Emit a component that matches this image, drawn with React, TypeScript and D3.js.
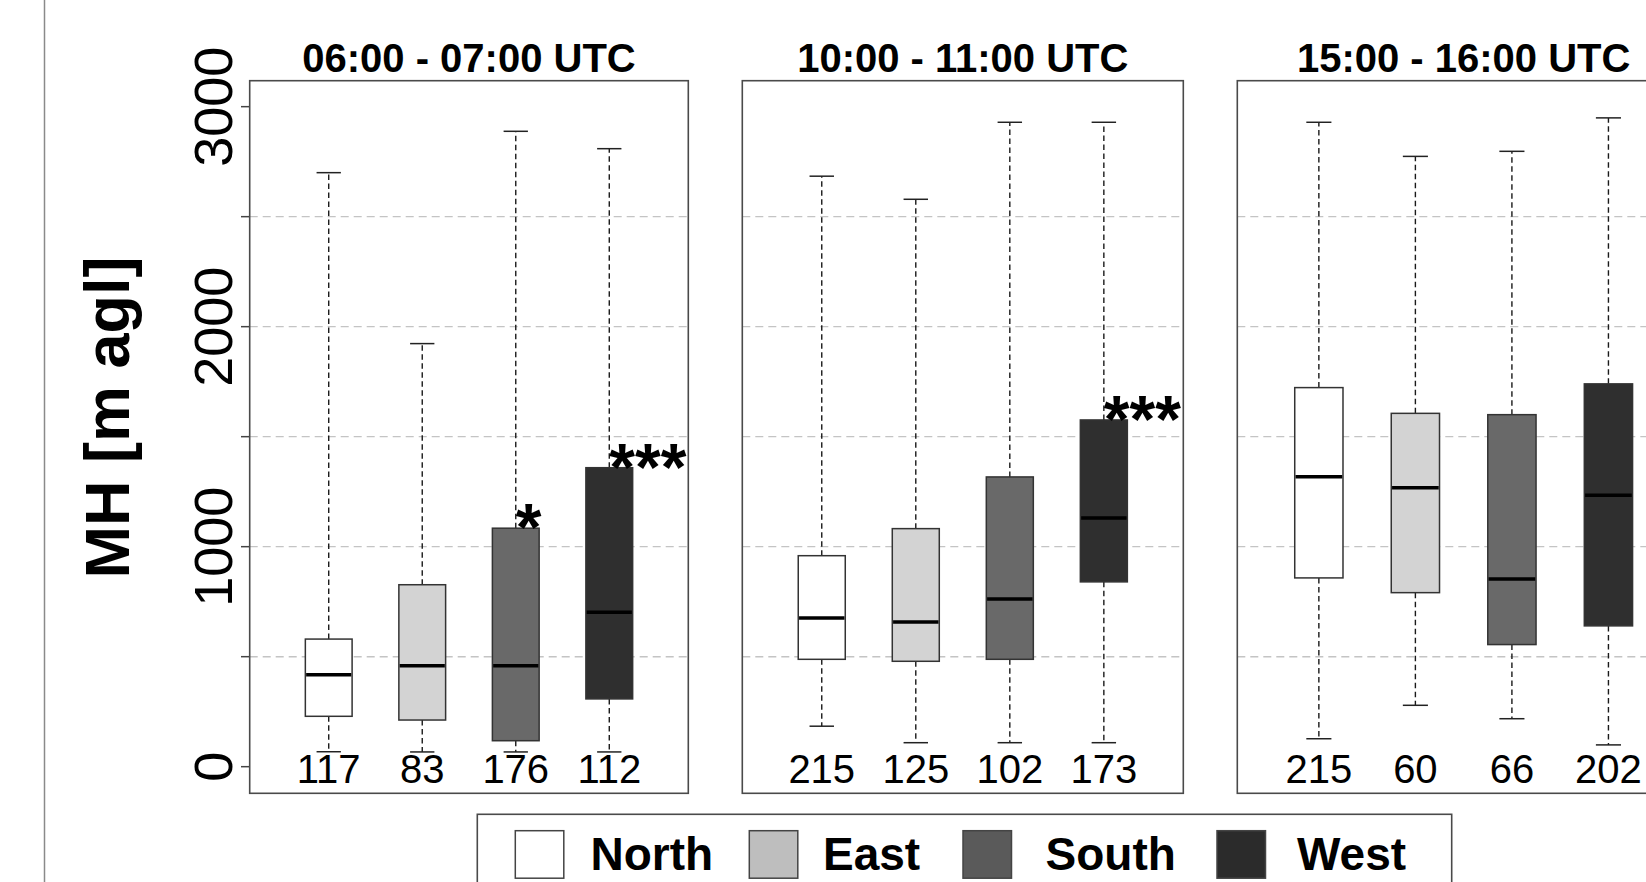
import React from 'react';
import * as d3 from 'd3';

const panelTitles = ['06:00 - 07:00 UTC', '10:00 - 11:00 UTC', '15:00 - 16:00 UTC'];
const directions = ['North', 'East', 'South', 'West'];
const counts = [
  [117, 83, 176, 112],
  [215, 125, 102, 173],
  [215, 60, 66, 202],
];
const whiskerLow = [
  [68, 67, 67, 67],
  [184, 109, 109, 109],
  [127, 279, 218, 99],
];
const q1 = [
  [229, 212, 118, 308],
  [488, 479, 488, 840],
  [858, 791, 555, 640],
];
const medians = [
  [418, 459, 459, 702],
  [676, 658, 762, 1130],
  [1318, 1268, 853, 1234],
];
const q3 = [
  [580, 827, 1084, 1359],
  [959, 1082, 1317, 1576],
  [1723, 1606, 1600, 1740],
];
const whiskerHigh = [
  [2700, 1923, 2888, 2809],
  [2684, 2579, 2929, 2929],
  [2929, 2774, 2797, 2949],
];
const significance = [
  ['', '', '*', '***'],
  ['', '', '', '***'],
  ['', '', '', ''],
];
const yTicks = [0, 500, 1000, 1500, 2000, 2500, 3000];
const yLabels = [0, 1000, 2000, 3000];
const gridValues = [500, 1000, 1500, 2000, 2500];

const boxFills = ['#ffffff', '#d3d3d3', '#696969', '#2f2f2f'];
const legendFills = ['#ffffff', '#bebebe', '#5a5a5a', '#2b2b2b'];

const FONT = '"Liberation Sans", Arial, Helvetica, sans-serif';

const panelRanges: [number, number][] = [
  [249.7, 688.3],
  [742.3, 1183.3],
  [1237.3, 1690],
];

export default function App() {
  const W = 1646;
  const H = 882;
  const y = d3.scaleLinear().domain([-121, 3118]).range([793.3, 80.7]);
  const panelTop = y(3118);
  const panelBottom = y(-121);

  const legendX = [515.3, 749.3, 963, 1217];
  const legendTextX = [590.5, 823, 1045.5, 1297];

  return (
    <svg
      width={W}
      height={H}
      style={{ position: 'absolute', left: 0, top: 0, background: '#fff' }}
      fontFamily={FONT}
    >
      <rect x={0} y={0} width={W} height={H} fill="#ffffff" />
      <line x1={44.5} x2={44.5} y1={0} y2={H} stroke="#8a8a8a" strokeWidth={1.5} />

      {/* Y axis title */}
      <text
        transform={`translate(128.5, 417.5) rotate(-90)`}
        textAnchor="middle"
        fontSize={63}
        fontWeight="bold"
        fill="#000"
      >
        MH [m agl]
      </text>

      {/* Y axis ticks and labels */}
      {yTicks.map((t) => (
        <line key={'t' + t} x1={241} x2={panelRanges[0][0]} y1={y(t)} y2={y(t)} stroke="#444" strokeWidth={1.5} />
      ))}
      {yLabels.map((t) => (
        <text
          key={'l' + t}
          transform={`translate(231.5, ${y(t)}) rotate(-90)`}
          textAnchor="middle"
          fontSize={54}
          fill="#000"
        >
          {t}
        </text>
      ))}

      {panelTitles.map((title, p) => {
        const [x0, x1] = panelRanges[p];
        const x = d3.scaleLinear().domain([0.155, 4.845]).range([x0, x1]);
        const unit = x(1) - x(0);
        const halfBox = 0.25 * unit;
        const halfCap = 0.13 * unit;
        return (
          <g key={title}>
            {gridValues.map((g) => (
              <line
                key={'g' + g}
                x1={x0}
                x2={x1}
                y1={y(g)}
                y2={y(g)}
                stroke="#c4c4c4"
                strokeWidth={1.4}
                strokeDasharray="8,5"
              />
            ))}
            {directions.map((dname, i) => {
              const cx = x(i + 1);
              return (
                <g key={dname}>
                  <line
                    x1={cx}
                    x2={cx}
                    y1={y(q3[p][i])}
                    y2={y(whiskerHigh[p][i])}
                    stroke="#1a1a1a"
                    strokeWidth={1.4}
                    strokeDasharray="5.5,3.5"
                  />
                  <line
                    x1={cx}
                    x2={cx}
                    y1={y(q1[p][i])}
                    y2={y(whiskerLow[p][i])}
                    stroke="#1a1a1a"
                    strokeWidth={1.4}
                    strokeDasharray="5.5,3.5"
                  />
                  <line
                    x1={cx - halfCap}
                    x2={cx + halfCap}
                    y1={y(whiskerHigh[p][i])}
                    y2={y(whiskerHigh[p][i])}
                    stroke="#222"
                    strokeWidth={1.5}
                  />
                  <line
                    x1={cx - halfCap}
                    x2={cx + halfCap}
                    y1={y(whiskerLow[p][i])}
                    y2={y(whiskerLow[p][i])}
                    stroke="#222"
                    strokeWidth={1.5}
                  />
                  <rect
                    x={cx - halfBox}
                    y={y(q3[p][i])}
                    width={2 * halfBox}
                    height={y(q1[p][i]) - y(q3[p][i])}
                    fill={boxFills[i]}
                    stroke="#333"
                    strokeWidth={1.5}
                  />
                  <line
                    x1={cx - halfBox + 0.8}
                    x2={cx + halfBox - 0.8}
                    y1={y(medians[p][i])}
                    y2={y(medians[p][i])}
                    stroke="#000"
                    strokeWidth={3.5}
                  />
                  {significance[p][i] && (
                    <text
                      x={cx}
                      y={y(q3[p][i]) + 22}
                      fontSize={66}
                      fontWeight="bold"
                      fill="#000"
                    >
                      {significance[p][i]}
                    </text>
                  )}
                  <text x={cx} y={783} textAnchor="middle" fontSize={40} fill="#000">
                    {counts[p][i]}
                  </text>
                </g>
              );
            })}
            <rect
              x={x0}
              y={panelTop}
              width={x1 - x0}
              height={panelBottom - panelTop}
              fill="none"
              stroke="#4a4a4a"
              strokeWidth={1.6}
            />
            <text
              x={(x0 + x1) / 2}
              y={71.5}
              textAnchor="middle"
              fontSize={40}
              fontWeight="bold"
              fill="#000"
            >
              {title}
            </text>
          </g>
        );
      })}

      {/* Legend */}
      <rect x={477.3} y={814.3} width={1451.7 - 477.3} height={120} fill="#fff" stroke="#4a4a4a" strokeWidth={1.6} />
      {directions.map((dname, i) => (
        <g key={'leg' + dname}>
          <rect x={legendX[i]} y={830.7} width={48.5} height={47.5} fill={legendFills[i]} stroke="#444" strokeWidth={1.5} />
          <text x={legendTextX[i]} y={869.5} fontSize={46} fontWeight="bold" fill="#000">
            {dname}
          </text>
        </g>
      ))}
    </svg>
  );
}
